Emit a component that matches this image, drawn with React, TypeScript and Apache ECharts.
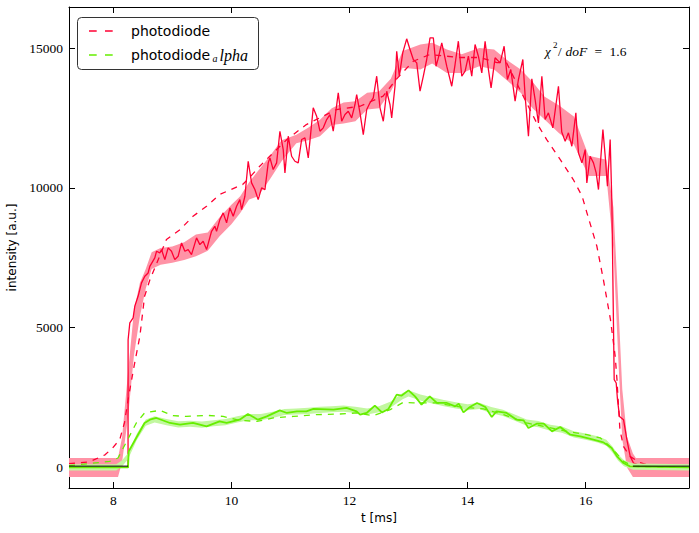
import React, { useEffect, useRef } from 'react';
import * as echarts from 'echarts';

const xTicks = [8, 10, 12, 14, 16];
const yTicks = [0, 5000, 10000, 15000];

const redSolid: [number, number][] = [
  [7.25, 0], [8.25, 0], [8.251, 4568], [8.28, 5168], [8.336, 5347], [8.364, 5762], [8.42, 6120], [8.478, 6600],
  [8.534, 6836], [8.59, 6956], [8.619, 7194], [8.703, 7494], [8.732, 7731], [8.788, 7672], [8.817, 7791],
  [8.873, 7433], [8.929, 7852], [8.986, 7731], [9.042, 7433], [9.098, 7552], [9.156, 8031], [9.212, 7731],
  [9.268, 7791], [9.325, 7612], [9.41, 8210], [9.466, 7970], [9.522, 8090], [9.58, 7791], [9.664, 8447],
  [9.72, 8626], [9.749, 8447], [9.805, 8865], [9.861, 9105], [9.919, 8747], [9.975, 9283], [10.031, 8983],
  [10.088, 9341], [10.144, 9580], [10.173, 9223], [10.229, 9699], [10.285, 10952], [10.342, 10178],
  [10.398, 9939], [10.454, 9580], [10.512, 9998], [10.568, 9939], [10.624, 10893], [10.653, 11072],
  [10.708, 10655], [10.766, 10893], [10.822, 12025], [10.878, 11370], [10.907, 10536], [10.963, 11847],
  [11.02, 11131], [11.076, 10952], [11.132, 10894], [11.19, 11729], [11.246, 11789], [11.302, 11073],
  [11.386, 12863], [11.444, 12563], [11.5, 12026], [11.556, 12147], [11.614, 12444], [11.669, 12623],
  [11.725, 12026], [11.81, 13400], [11.868, 12383], [11.924, 12623], [11.98, 12741], [12.037, 12505],
  [12.093, 12981], [12.122, 13339], [12.178, 12684], [12.234, 11907], [12.292, 12802], [12.347, 13042],
  [12.403, 13221], [12.461, 13994], [12.517, 12863], [12.573, 12383], [12.631, 13457], [12.686, 12981],
  [12.715, 12505], [12.771, 13636], [12.8, 14889], [12.844, 13994], [12.902, 14830], [12.969, 15332],
  [13.025, 14950], [13.081, 14592], [13.139, 14472], [13.195, 13457], [13.251, 13994], [13.308, 14592],
  [13.364, 15368], [13.42, 15368], [13.466, 14352], [13.505, 14652], [13.563, 15189], [13.647, 14352],
  [13.732, 13636], [13.788, 14412], [13.844, 15246], [13.902, 13994], [13.958, 14173], [14.014, 14710],
  [14.071, 13994], [14.127, 15128], [14.183, 14710], [14.241, 14114], [14.297, 15246], [14.353, 14234],
  [14.398, 13578], [14.466, 14652], [14.551, 14472], [14.619, 15068], [14.675, 13875], [14.732, 14234],
  [14.805, 13100], [14.861, 13875], [14.936, 14592], [14.975, 13278], [15.031, 11847], [15.088, 13900],
  [15.144, 13160], [15.2, 12326], [15.258, 13994], [15.314, 12444], [15.369, 12684], [15.444, 12147],
  [15.539, 13636], [15.595, 12000], [15.653, 11668], [15.708, 11968], [15.766, 11489], [15.834, 12684],
  [15.878, 11252], [15.936, 10894], [15.992, 11370], [16.02, 10178], [16.076, 11131], [16.132, 10894],
  [16.178, 10536], [16.217, 9939], [16.292, 12086], [16.331, 11131], [16.369, 10057], [16.415, 11728],
  [16.444, 9463], [16.461, 6718], [16.483, 3139], [16.517, 3020], [16.539, 2423], [16.573, 1825],
  [16.641, 1707], [16.698, 991], [16.754, 394], [16.81, 157], [16.924, 61], [17.1, 30], [17.75, 30],
];

const redFit: [number, number][] = [
  [7.25, 130], [7.6, 200], [7.86, 450], [7.99, 700], [8.11, 1000], [8.19, 1600], [8.25, 2420], [8.35, 3600],
  [8.45, 4690], [8.53, 6120], [8.62, 6711], [8.9, 8150], [9.13, 8507], [9.35, 8983], [9.58, 9341],
  [9.8, 9760], [10.03, 9975], [10.19, 10118], [10.3, 10350], [10.48, 10773], [10.65, 11131], [10.94, 11728],
  [11.27, 12265], [11.55, 12562], [11.78, 12802], [12.18, 12920], [12.57, 13280], [12.8, 13900],
  [13.08, 14530], [13.36, 14770], [13.87, 14663], [14.21, 14663], [14.5, 14483], [14.66, 14473],
  [14.83, 13757], [15.0, 13040], [15.17, 12325], [15.34, 11728], [15.57, 11013], [15.79, 10297],
  [15.94, 9700], [16.02, 9115], [16.19, 7910], [16.3, 6718], [16.42, 5287], [16.5, 3973], [16.53, 3139],
  [16.58, 1350], [16.64, 752], [16.75, 394], [16.92, 168], [17.14, 36], [17.48, -21], [17.75, -47],
];

const redBandX = [
  7.25, 8.08, 8.15, 8.25, 8.35, 8.45, 8.55, 8.65, 8.8, 9.0, 9.2, 9.4, 9.6, 9.8, 10.0, 10.15, 10.3, 10.45,
  10.65, 10.85, 11.1, 11.3, 11.5, 11.7, 11.9, 12.1, 12.3, 12.5, 12.7, 12.9, 13.2, 13.4, 13.65, 13.9, 14.2,
  14.45, 14.65, 14.9, 15.1, 15.3, 15.55, 15.8, 16.05, 16.35, 16.47, 16.55, 16.62, 16.7, 16.8, 16.85, 17.75,
];
const redBandLow = [
  -340, -340, 200, 1800, 4000, 5400, 6400, 7100, 7250, 7320, 7420, 7550, 7750, 8270, 8700, 9100, 9580, 9700,
  10300, 10950, 11600, 11700, 11850, 12250, 12300, 12380, 12800, 12850, 13450, 14300, 14230, 14450, 14110,
  14110, 14350, 14230, 13880, 13400, 12850, 12450, 11950, 11550, 10420, 10420, 7800, 4000, 1000, 0, -340,
  -340, -340,
];
const redBandHigh = [
  340, 340, 1100, 3400, 5600, 6600, 7100, 7700, 7850, 7900, 8050, 8330, 8400, 8950, 9400, 9700, 10200, 10600,
  11130, 11700, 11900, 12150, 12440, 12850, 13050, 13100, 13400, 13450, 13900, 14900, 15130, 15190, 14950,
  14780, 15000, 14950, 14600, 14230, 13800, 13270, 12950, 12550, 11150, 11010, 9300, 6000, 2800, 1100, 500,
  340, 340,
];

const greenSolid: [number, number][] = [
  [7.25, 0], [8.25, 0], [8.26, 570], [8.53, 1590], [8.62, 1707], [8.73, 1768], [8.96, 1589], [9.13, 1528],
  [9.35, 1589], [9.58, 1467], [9.8, 1646], [9.92, 1589], [10.14, 1707], [10.28, 1911], [10.45, 1707],
  [10.6, 1825], [10.82, 2040], [10.94, 1947], [11.11, 2004], [11.27, 2004], [11.39, 2090], [11.73, 2065],
  [11.95, 2126], [12.12, 2004], [12.18, 1886], [12.29, 1947], [12.43, 2208], [12.55, 1968], [12.66, 2090],
  [12.8, 2602], [12.88, 2566], [13.0, 2756], [13.11, 2541], [13.22, 2244], [13.36, 2541], [13.48, 2305],
  [13.65, 2305], [13.79, 2183], [13.85, 2280], [13.93, 1968], [14.04, 2162], [14.16, 2305], [14.3, 2162],
  [14.41, 1804], [14.49, 2004], [14.66, 1947], [14.83, 1707], [14.95, 1682], [15.03, 1410], [15.17, 1564],
  [15.29, 1564], [15.43, 1288], [15.57, 1446], [15.74, 1170], [15.91, 1110], [16.13, 991], [16.3, 895],
  [16.44, 694], [16.53, 394], [16.64, 157], [16.75, 36], [17.75, 0],
];

const greenFit: [number, number][] = [
  [7.25, 60], [7.94, 215], [8.08, 336], [8.11, 455], [8.39, 1589], [8.53, 1947], [8.62, 1983], [8.79, 2040],
  [9.01, 1850], [9.24, 1825], [9.58, 1861], [9.86, 1825], [10.14, 1682], [10.43, 1646], [10.71, 1768],
  [11.05, 1825], [11.44, 1886], [11.84, 1911], [12.12, 1947], [12.4, 1850], [12.69, 2065], [12.91, 2326],
  [13.08, 2305], [13.48, 2305], [13.87, 2162], [14.27, 2090], [14.61, 1886], [15.0, 1589], [15.34, 1446],
  [15.68, 1288], [16.02, 1170], [16.25, 1052], [16.47, 634], [16.64, 215], [16.81, 36], [17.75, 0],
];

const greenBandX = [
  7.25, 8.05, 8.15, 8.25, 8.4, 8.55, 8.7, 8.9, 9.1, 9.3, 9.5, 9.7, 9.9, 10.1, 10.3, 10.5, 10.7, 10.9, 11.1,
  11.3, 11.5, 11.7, 11.9, 12.1, 12.3, 12.5, 12.7, 12.9, 13.0, 13.2, 13.4, 13.6, 13.8, 14.0, 14.2, 14.4, 14.6,
  14.8, 15.0, 15.2, 15.4, 15.6, 15.8, 16.0, 16.2, 16.35, 16.45, 16.55, 16.65, 16.8, 17.75,
];
const greenBandLow = [
  -110, -110, 40, 290, 990, 1490, 1610, 1510, 1430, 1450, 1420, 1470, 1510, 1610, 1690, 1690, 1770, 1870, 1890,
  1910, 1950, 1970, 1990, 1950, 1890, 1970, 2140, 2440, 2540, 2390, 2290, 2190, 2110, 2040, 2090, 1940, 1840,
  1670, 1490, 1440, 1310, 1240, 1070, 990, 890, 770, 540, 240, 40, -80, -110,
];
const greenBandHigh = [
  110, 110, 260, 510, 1210, 1710, 1830, 1730, 1650, 1670, 1640, 1690, 1730, 1830, 1910, 1910, 1990, 2090, 2110,
  2130, 2170, 2190, 2210, 2170, 2110, 2190, 2360, 2660, 2760, 2610, 2510, 2410, 2330, 2260, 2310, 2160, 2060,
  1890, 1710, 1660, 1530, 1460, 1290, 1210, 1110, 990, 760, 460, 260, 140, 110,
];

const baseline: ([number, number] | '-')[] = [[7.25, 45], [8.25, 45], '-', [16.8, 45], [17.75, 45]];

const RED = '#ff0033';
const RED_BAND = '#ff93a6';
const GREEN = '#66ee00';
const GREEN_BAND = '#c2f7a0';

export default function App() {
  const ref = useRef<HTMLDivElement>(null);
  useEffect(() => {
    const chart = echarts.init(ref.current!, null, { renderer: 'svg' });

    const band = (xs: number[], lo: number[], hi: number[], fill: string, z: number) => ({
      type: 'custom',
      z,
      silent: true,
      clip: true,
      data: [[12, 8000]],
      renderItem: (_p: any, api: any) => {
        const pts: number[][] = [];
        for (let i = 0; i < xs.length; i++) pts.push(api.coord([xs[i], hi[i]]));
        for (let i = xs.length - 1; i >= 0; i--) pts.push(api.coord([xs[i], lo[i]]));
        return { type: 'polygon', shape: { points: pts }, style: { fill, stroke: null } };
      },
    });

    const plain = (v: number) => String(v);
    const serifLabel = { fontFamily: 'Liberation Serif', fontSize: 13.5, color: '#000', formatter: plain };
    const xMin = 7.25, xMax = 17.75, yMin = -737, yMax = 16470;

    chart.setOption({
      animation: false,
      backgroundColor: '#fff',
      grid: { left: 69, right: 10, top: 7, bottom: 45, containLabel: false, outerBoundsMode: 'none' },
      xAxis: [
        {
          type: 'value', min: xMin, max: xMax, position: 'bottom',
          name: 't [ms]', nameLocation: 'middle', nameGap: 21,
          nameTextStyle: { fontFamily: 'DejaVu Sans', fontSize: 12, color: '#000' },
          axisLine: { show: true, onZero: false, lineStyle: { color: '#000', width: 1 } },
          axisTick: { show: true, inside: true, length: 6, customValues: xTicks, lineStyle: { color: '#000' } },
          axisLabel: { ...serifLabel, margin: 5, customValues: xTicks },
          splitLine: { show: false },
        },
        {
          type: 'value', min: xMin, max: xMax, position: 'top',
          axisLine: { show: true, onZero: false, lineStyle: { color: '#000', width: 1 } },
          axisTick: { show: true, inside: true, length: 6, customValues: xTicks, lineStyle: { color: '#000' } },
          axisLabel: { show: false },
          splitLine: { show: false },
        },
      ],
      yAxis: [
        {
          type: 'value', min: yMin, max: yMax, position: 'left',
          name: 'intensity [a.u.]', nameLocation: 'middle', nameGap: 48,
          nameTextStyle: { fontFamily: 'DejaVu Sans', fontSize: 12, color: '#000' },
          axisLine: { show: true, onZero: false, lineStyle: { color: '#000', width: 1 } },
          axisTick: { show: true, inside: true, length: 6, customValues: yTicks, lineStyle: { color: '#000' } },
          axisLabel: { ...serifLabel, margin: 6, customValues: yTicks },
          splitLine: { show: false },
        },
        {
          type: 'value', min: yMin, max: yMax, position: 'right',
          axisLine: { show: true, onZero: false, lineStyle: { color: '#000', width: 1 } },
          axisTick: { show: true, inside: true, length: 6, customValues: yTicks, lineStyle: { color: '#000' } },
          axisLabel: { show: false },
          splitLine: { show: false },
        },
      ],
      series: [
        band(redBandX, redBandLow, redBandHigh, RED_BAND, 1),
        {
          type: 'line', name: 'photodiode data', data: redSolid, z: 2, symbol: 'none', showSymbol: false,
          lineStyle: { color: RED, width: 1.3 }, silent: true,
        },
        {
          type: 'line', name: 'photodiode', data: redFit, z: 3, symbol: 'none', showSymbol: false,
          lineStyle: { color: RED, width: 1.3, type: [6, 6] }, silent: true,
        },
        band(greenBandX, greenBandLow, greenBandHigh, GREEN_BAND, 4),
        {
          type: 'line', name: 'photodiode alpha data', data: greenSolid, z: 5, symbol: 'none', showSymbol: false,
          lineStyle: { color: GREEN, width: 1.8 }, silent: true,
        },
        {
          type: 'line', name: 'photodiode_alpha', data: greenFit, z: 6, symbol: 'none', showSymbol: false,
          lineStyle: { color: GREEN, width: 1.3, type: [6, 6] }, silent: true,
        },
        {
          type: 'line', name: 'baseline', data: baseline, z: 7, symbol: 'none', showSymbol: false,
          connectNulls: false, lineStyle: { color: '#000', width: 1 }, silent: true,
        },
      ],
      graphic: [
        {
          type: 'rect', z: 100,
          shape: { x: 77.5, y: 17.5, width: 181, height: 52, r: 4 },
          style: { fill: '#fff', stroke: '#333', lineWidth: 1 },
        },
        {
          type: 'line', z: 101,
          shape: { x1: 89, y1: 31, x2: 113, y2: 31 },
          style: { stroke: RED, lineWidth: 1.3, lineDash: [7.7, 8.3] },
        },
        {
          type: 'line', z: 101,
          shape: { x1: 89, y1: 55, x2: 113, y2: 55 },
          style: { stroke: GREEN, lineWidth: 1.3, lineDash: [7.7, 8.3] },
        },
        {
          type: 'text', z: 101, x: 131, y: 31,
          style: { text: 'photodiode', fontFamily: 'DejaVu Sans', fontSize: 14, fill: '#000', verticalAlign: 'middle' },
        },
        {
          type: 'text', z: 101, x: 131, y: 55,
          style: { text: 'photodiode', fontFamily: 'DejaVu Sans', fontSize: 14, fill: '#000', verticalAlign: 'middle' },
        },
        {
          type: 'text', z: 101, x: 212.5, y: 58.5,
          style: { text: 'a', fontFamily: 'Liberation Serif', fontStyle: 'italic', fontSize: 10, fill: '#000', verticalAlign: 'middle' },
        },
        {
          type: 'text', z: 101, x: 219.5, y: 55,
          style: { text: 'lpha', fontFamily: 'Liberation Serif', fontStyle: 'italic', fontSize: 16, fill: '#000', verticalAlign: 'middle' },
        },
        {
          type: 'text', z: 101, x: 545, y: 51,
          style: { text: 'χ', fontFamily: 'Liberation Serif', fontStyle: 'italic', fontSize: 13, fill: '#000', verticalAlign: 'middle' },
        },
        {
          type: 'text', z: 101, x: 553, y: 45,
          style: { text: '2', fontFamily: 'Liberation Serif', fontSize: 9, fill: '#000', verticalAlign: 'middle' },
        },
        {
          type: 'text', z: 101, x: 558, y: 51,
          style: { text: '/', fontFamily: 'Liberation Serif', fontSize: 13, fill: '#000', verticalAlign: 'middle' },
        },
        {
          type: 'text', z: 101, x: 565.5, y: 51,
          style: { text: 'doF', fontFamily: 'Liberation Serif', fontStyle: 'italic', fontSize: 13.5, fill: '#000', verticalAlign: 'middle' },
        },
        {
          type: 'text', z: 101, x: 594.5, y: 51,
          style: { text: '=', fontFamily: 'Liberation Serif', fontSize: 13.5, fill: '#000', verticalAlign: 'middle' },
        },
        {
          type: 'text', z: 101, x: 609.5, y: 51,
          style: { text: '1.6', fontFamily: 'Liberation Serif', fontSize: 13.5, fill: '#000', verticalAlign: 'middle' },
        },
      ],
    });
    return () => chart.dispose();
  }, []);
  return <div ref={ref} style={{ position: 'absolute', left: 0, top: 0, width: 699, height: 533 }} />;
}
